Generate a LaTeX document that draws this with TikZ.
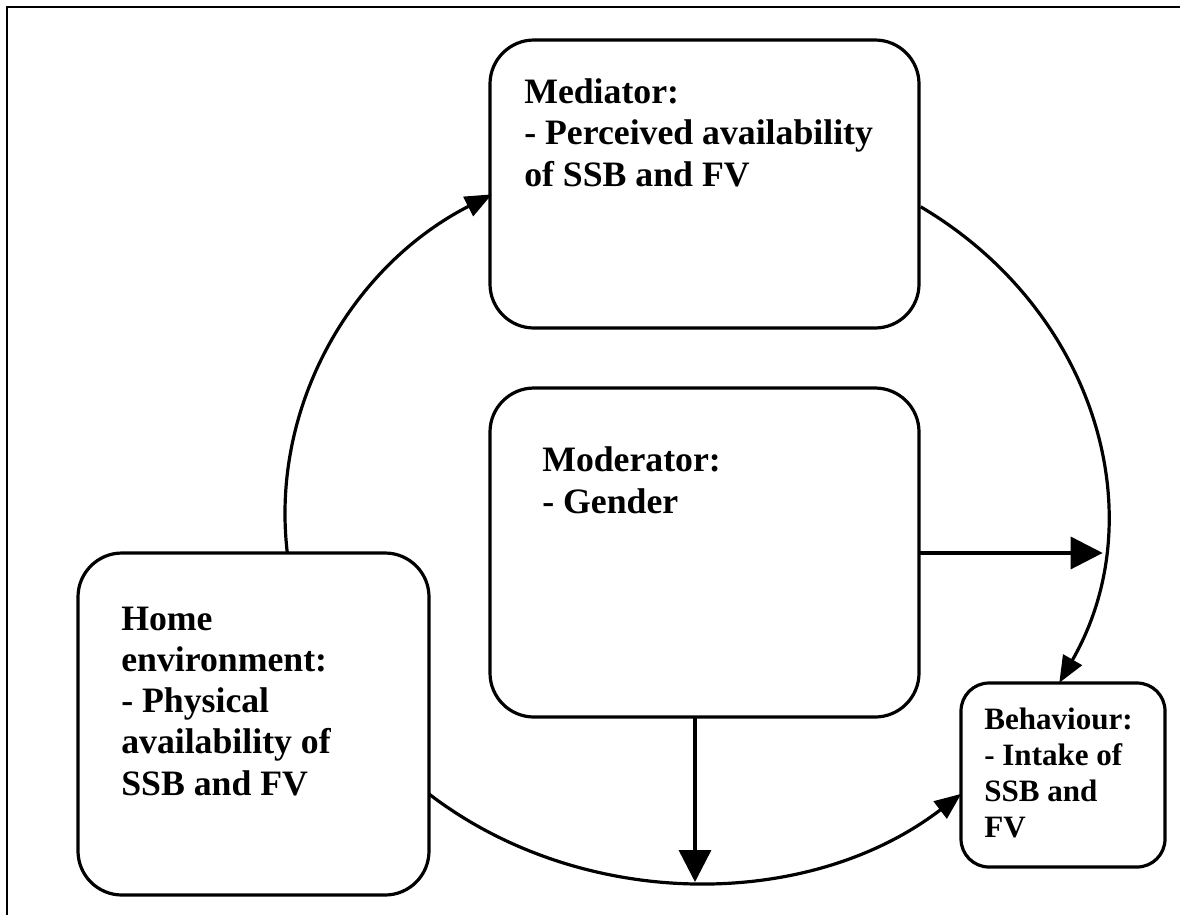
\documentclass[tikz,border=0pt]{standalone}
\usepackage{fontspec}
\setmainfont{Liberation Serif}
\usetikzlibrary{arrows.meta,calc}

\tikzset{
  box/.style={draw, line width=2.4pt, rounded corners=#1, inner sep=0pt, outer sep=0pt},
  box/.default=33pt,
  bigtext/.style={anchor=base west, align=left, inner sep=0pt,
    font=\fontsize{26.8pt}{30.8pt}\selectfont\bfseries},
  smalltext/.style={anchor=base west, align=left, inner sep=0pt,
    font=\fontsize{23.3pt}{27pt}\selectfont\bfseries},
  curve/.style={line width=2.4pt, -{Triangle[length=20pt,width=16pt]}},
  straight/.style={line width=2.6pt, -{Triangle[length=24pt,width=24pt]}}
}

\begin{document}
\begin{tikzpicture}[x=0.75pt,y=-0.75pt]
  \useasboundingbox (0,0) rectangle (1180,915);

  % page frame (top and left edges)
  \draw[line width=1.5pt] (7,915) -- (7,6.5) -- (1180,6.5);

  % boxes
  \node[box, minimum width=321.75pt, minimum height=216pt] (med) at (704.5,184) {};
  \node[box, minimum width=321.75pt, minimum height=246.75pt] (mod) at (704.5,552.5) {};
  \node[box, minimum width=263.25pt, minimum height=256.5pt] (home) at (253.5,724) {};
  \node[box=21pt, minimum width=153pt, minimum height=138pt] (beh) at (1063,775) {};

  % box texts (placed by the baseline of their last line)
  \node[bigtext] (medtext) at (524,186) {Mediator:\\- Perceived availability\\of SSB and FV};
  \node[bigtext] (modtext) at (542,513) {Moderator:\\- Gender};
  \node[bigtext] (hometext) at (121,795) {Home\\environment:\\- Physical\\availability of\\SSB and FV};
  \node[smalltext] (behtext) at (984,837) {Behaviour:\\- Intake of\\SSB and\\FV};

  % elliptical path points
  \coordinate (c) at (695,514);
  \coordinate (homeTop) at ($(c)+(173.9:410 and 368)$);
  \coordinate (medRight) at ($(c)+(-56.6:410 and 368)$);
  \coordinate (homeRight) at ($(c)+(130.5:410 and 368)$);
  \coordinate (rightPt) at ($(c)+(6.08:410 and 368)$);
  \coordinate (bottomPt) at ($(c)+(90:410 and 368)$);

  % home -> mediator
  \draw[curve] (homeTop) arc[start angle=173.9, end angle=240.3, x radius=410, y radius=368];
  % mediator -> behaviour
  \draw[curve] (medRight) arc[start angle=-56.6, end angle=27.3, x radius=410, y radius=368];
  % home -> behaviour
  \draw[curve] (homeRight) arc[start angle=130.5, end angle=49.5, x radius=410, y radius=368];

  % moderator effects
  \draw[straight] (mod.east |- rightPt) -- (rightPt);
  \draw[straight] (mod.south -| bottomPt) -- (bottomPt);
\end{tikzpicture}
\end{document}
